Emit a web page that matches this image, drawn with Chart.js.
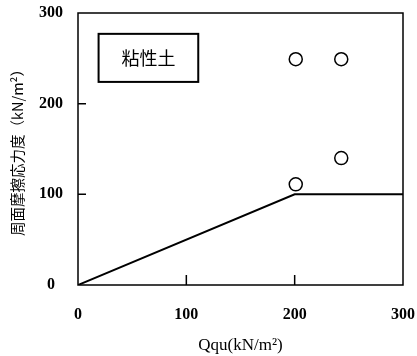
<!DOCTYPE html>
<html>
<head>
<meta charset="utf-8">
<script src="https://cdn.jsdelivr.net/npm/chart.js@4/dist/chart.umd.min.js"></script>
<style>
  body { margin: 0; background: #fff; }
</style>
</head>
<body>
<canvas id="chart" width="417" height="356"></canvas>
<script>
// measured points (qu, friction)
const pointsX = [201, 243, 243, 201];
const pointsY = [249, 249, 140, 111];
// design line
const lineX = [0, 200, 300];
const lineY = [0, 100, 100];
const axisTicks = [0, 100, 200, 300];
const soilLabel = '粘性土';
const labelBox = { x0: 19, x1: 111, y0: 224, y1: 277 };

const serif = '"Liberation Serif", "DejaVu Serif", serif';
const cjk = '"Noto Sans CJK JP", sans-serif';

// frame, inner ticks and the soil label box
const framePlugin = {
  id: 'frame',
  afterDatasetsDraw(chart) {
    const { ctx, chartArea: a, scales: { x, y } } = chart;
    ctx.save();
    ctx.strokeStyle = '#000';
    ctx.lineWidth = 1.5;
    ctx.strokeRect(a.left, a.top, a.right - a.left, a.bottom - a.top);
    ctx.beginPath();
    [100, 200].forEach(v => {
      const px = x.getPixelForValue(v);
      ctx.moveTo(px, a.bottom);
      ctx.lineTo(px, a.bottom - 10);
      const py = y.getPixelForValue(v);
      ctx.moveTo(a.left, py);
      ctx.lineTo(a.left + 8, py);
    });
    ctx.stroke();

    const bx0 = x.getPixelForValue(labelBox.x0), bx1 = x.getPixelForValue(labelBox.x1);
    const by0 = y.getPixelForValue(labelBox.y1), by1 = y.getPixelForValue(labelBox.y0);
    ctx.lineWidth = 2;
    ctx.strokeRect(bx0, by0, bx1 - bx0, by1 - by0);
    ctx.fillStyle = '#000';
    ctx.font = '18px ' + cjk;
    ctx.textAlign = 'center';
    ctx.textBaseline = 'middle';
    ctx.fillText(soilLabel, (bx0 + bx1) / 2, (by0 + by1) / 2);
    ctx.restore();
  }
};

new Chart(document.getElementById('chart'), {
  type: 'scatter',
  data: {
    datasets: [
      {
        data: pointsX.map((v, i) => ({ x: v, y: pointsY[i] })),
        pointStyle: 'circle',
        pointRadius: 6.5,
        pointBackgroundColor: '#fff',
        pointBorderColor: '#000',
        pointBorderWidth: 1.5,
        order: 0
      },
      {
        data: lineX.map((v, i) => ({ x: v, y: lineY[i] })),
        showLine: true,
        borderColor: '#000',
        borderWidth: 2,
        pointRadius: 0,
        order: 1
      }
    ]
  },
  options: {
    responsive: false,
    animation: false,
    events: [],
    layout: { padding: { top: 13, right: 14, left: 0, bottom: 0 } },
    plugins: { legend: { display: false }, tooltip: { enabled: false } },
    scales: {
      x: {
        min: 0, max: 300,
        afterBuildTicks: s => { s.ticks = axisTicks.map(v => ({ value: v })); },
        afterFit: s => { s.height = 71; s.paddingLeft = 0; s.paddingRight = 0; },
        grid: { display: false, drawTicks: false },
        border: { display: false },
        ticks: { padding: 20, color: '#000', font: { family: serif, size: 16, weight: 'bold' } },
        title: {
          display: true, text: 'Qqu(kN/m²)', color: '#000',
          font: { family: serif, size: 17 }, padding: { top: 4, bottom: 0 }
        }
      },
      y: {
        min: 0, max: 300,
        afterBuildTicks: s => { s.ticks = axisTicks.map(v => ({ value: v })); },
        afterFit: s => { s.width = 78; s.paddingTop = 0; s.paddingBottom = 0; },
        grid: { display: false, drawTicks: false },
        border: { display: false },
        ticks: { padding: 15, crossAlign: 'center', color: '#000', font: { family: serif, size: 16, weight: 'bold' } },
        title: {
          display: true, text: '周面摩擦応力度（kN/m²）', color: '#000',
          font: { family: cjk, size: 14.5 }, padding: { top: 9, bottom: 0 }
        }
      }
    }
  },
  plugins: [framePlugin]
});
</script>
</body>
</html>
